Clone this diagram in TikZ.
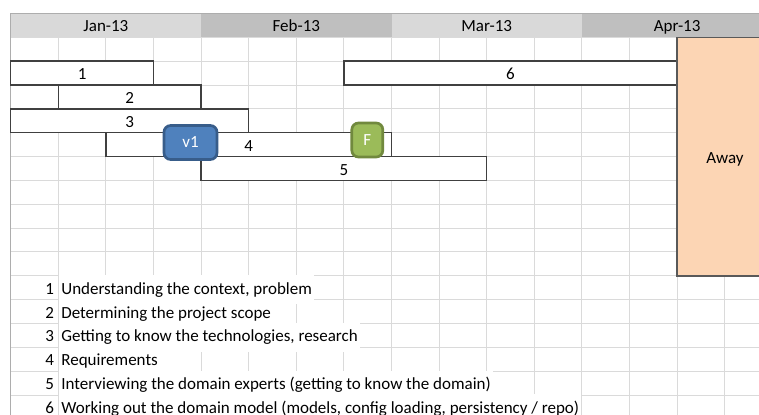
\documentclass[tikz,border=0pt]{standalone}
\usepackage{fontspec}
\setmainfont{Carlito}

\definecolor{gridgray}{HTML}{DADADA}
\definecolor{edgegray}{HTML}{ADADAD}
\definecolor{hdrlight}{HTML}{D9D9D9}
\definecolor{hdrdark}{HTML}{BFBFBF}
\definecolor{barline}{HTML}{404040}
\definecolor{awayfill}{HTML}{FCD5B4}
\definecolor{awayline}{HTML}{595959}
\definecolor{vonefill}{HTML}{4F81BD}
\definecolor{voneline}{HTML}{385D8A}
\definecolor{finalfill}{HTML}{9BBB59}
\definecolor{finalline}{HTML}{71893E}

\tikzset{
  gridline/.style={draw=gridgray, line width=0.75pt},
  taskbar/.style={draw=barline, fill=white, line width=1pt},
  cell/.style={anchor=base, yshift=-4.9pt},
  milestone/.style={rounded corners=5pt, line width=2pt, text=white,
    minimum height=25.5pt, inner sep=0pt},
  legendnum/.style={anchor=base east, yshift=-4.9pt, inner xsep=3pt},
  legendtext/.style={anchor=base west, yshift=-4.9pt, xshift=0.6pt,
    fill=white, inner xsep=1.5pt, text height=11pt, text depth=4pt}
}

\begin{document}
\begin{tikzpicture}[x=35.7pt, y=-17.8875pt,
    every node/.style={font=\fontsize{12.75pt}{15pt}\selectfont}]
    \useasboundingbox (-0.2248,-1.5639) rectangle (15.7206,15.7945);
    \fill[white] (-0.2248,-1.5639) rectangle (15.7206,15.7945);

    % sheet grid
    \foreach \i in {0,...,16}
      \draw[gridline] (\i,0) -- (\i,16);
    \foreach \j in {0,...,16}
      \draw[gridline] (0,\j) -- (16,\j);

    % month header
    \fill[hdrlight] (0,-1) rectangle (4,0);
    \fill[hdrdark] (4,-1) rectangle (8,0);
    \fill[hdrlight] (8,-1) rectangle (12,0);
    \fill[hdrdark] (12,-1) rectangle (16,0);
    \draw[edgegray, line width=1pt] (0,16) -- (0,-1) -- (16,-1);
    \node[cell] (jan) at (2,-0.5) {Jan-13};
    \node[cell] (feb) at (6,-0.5) {Feb-13};
    \node[cell] (mar) at (10,-0.5) {Mar-13};
    \node[cell] (apr) at (14,-0.5) {Apr-13};

    % task bars
    \draw[taskbar] (0,1) rectangle (3,2);
    \draw[taskbar] (7,1) rectangle (14,2);
    \draw[taskbar] (1,2) rectangle (4,3);
    \draw[taskbar] (0,3) rectangle (5,4);
    \draw[taskbar] (2,4) rectangle (8,5);
    \draw[taskbar] (4,5) rectangle (10,6);
    \node[cell] (bar1) at (1.5,1.5) {1};
    \node[cell] (bar6) at (10.5,1.5) {6};
    \node[cell] (bar2) at (2.5,2.5) {2};
    \node[cell] (bar3) at (2.5,3.5) {3};
    \node[cell] (bar4) at (5,4.5) {4};
    \node[cell] (bar5) at (7,5.5) {5};

    % holiday
    \draw[awayline, fill=awayfill, line width=1.1pt] (14,0) rectangle (17,10);
    \node[cell] (away) at (15.006,5.0) {Away};

    % milestones
    \node[milestone, fill=vonefill, draw=voneline, minimum width=39.75pt]
      (vone) at (3.777,4.411) {v1};
    \node[milestone, fill=finalfill, draw=finalline, minimum width=23.25pt]
      (final) at (7.492,4.306) {F};

    % legend
    \node[legendnum] (num1) at (1,10.5) {1};
    \node[legendtext] (txt1) at (1,10.5) {Understanding the context, problem};
    \node[legendnum] (num2) at (1,11.5) {2};
    \node[legendtext] (txt2) at (1,11.5) {Determining the project scope};
    \node[legendnum] (num3) at (1,12.5) {3};
    \node[legendtext] (txt3) at (1,12.5) {Getting to know the technologies, research};
    \node[legendnum] (num4) at (1,13.5) {4};
    \node[legendtext] (txt4) at (1,13.5) {Requirements};
    \node[legendnum] (num5) at (1,14.5) {5};
    \node[legendtext] (txt5) at (1,14.5) {Interviewing the domain experts (getting to know the domain)};
    \node[legendnum] (num6) at (1,15.5) {6};
    \node[legendtext] (txt6) at (1,15.5) {Working out the domain model (models, config loading, persistency / repo)};
\end{tikzpicture}
\end{document}
